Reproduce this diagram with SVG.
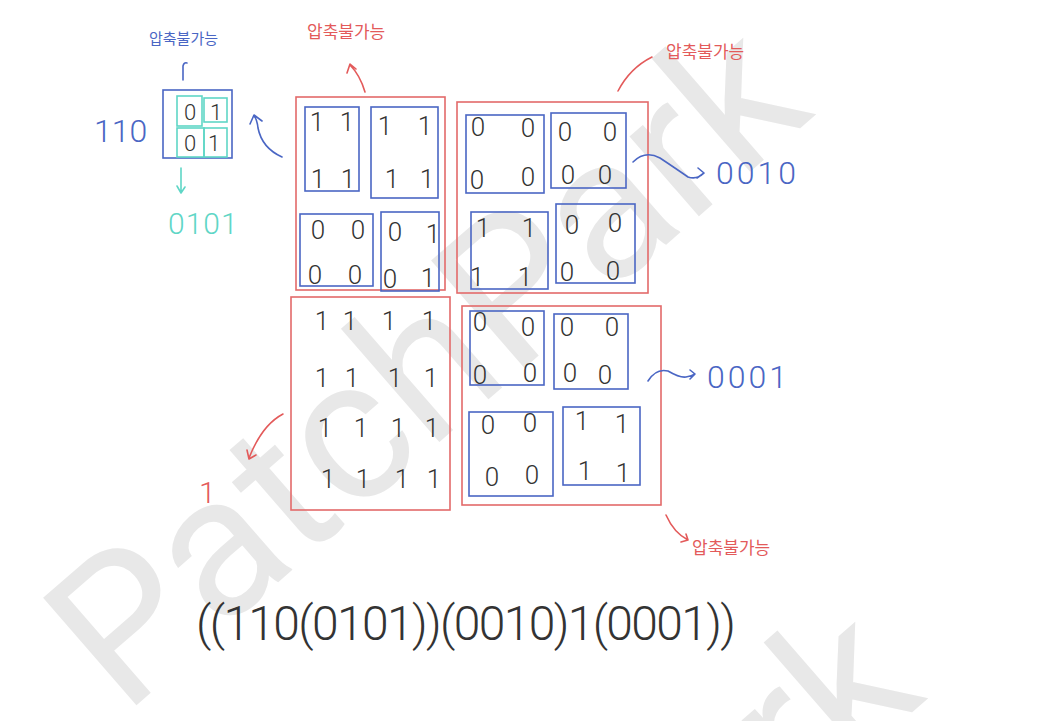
<svg xmlns="http://www.w3.org/2000/svg" width="1042" height="721" viewBox="0 0 1042 721">
<defs>
<style>
.wm{font-family:Roboto,"Open Sans",sans-serif;font-weight:400;font-size:200px;fill:#e8e8e8}
.red{fill:none;stroke:#e36a6a;stroke-width:1.6}
.blue{fill:none;stroke:#4a66c4;stroke-width:1.6}
.cyan{fill:none;stroke:#5fd6c6;stroke-width:1.6}
.d{font-family:Roboto,"Liberation Sans",sans-serif;font-weight:300;font-size:26px;fill:#333;text-anchor:middle}
.ds{font-family:Roboto,"Liberation Sans",sans-serif;font-weight:300;font-size:22px;fill:#333;text-anchor:middle}
.lblr{font-family:"Noto Sans CJK KR",sans-serif;font-size:17px;fill:#e35a5a}
.lblb{font-family:"Noto Sans CJK KR",sans-serif;font-size:15px;fill:#4a66c4}
.nb{font-family:Roboto,"Liberation Sans",sans-serif;font-weight:300;font-size:32px;fill:#4a66c4}
.nc{font-family:Roboto,"Liberation Sans",sans-serif;font-weight:300;font-size:30px;fill:#5fd6c6}
.nr{font-family:Roboto,"Liberation Sans",sans-serif;font-weight:300;font-size:30px;fill:#e35a5a}
.cr{fill:none;stroke:#e35a5a;stroke-width:1.6;stroke-linecap:round;stroke-linejoin:round}
.cb{fill:none;stroke:#4a66c4;stroke-width:1.6;stroke-linecap:round;stroke-linejoin:round}
.cc{fill:none;stroke:#5fd6c6;stroke-width:1.6;stroke-linecap:round;stroke-linejoin:round}
.expr{font-family:Roboto,"Liberation Sans",sans-serif;font-weight:300;font-size:48px;fill:#333}
</style>
</defs>
<rect width="1042" height="721" fill="#ffffff"/>
<g id="watermark">
<text class="wm" transform="translate(124,716) rotate(-41)">PatchPark</text>
<text class="wm" transform="translate(236,1300) rotate(-41)">PatchPark</text>
</g>

<g id="small-node">
<rect class="blue" x="163" y="90" width="69" height="68"/>
<rect class="cyan" x="177" y="96" width="25" height="30"/>
<rect class="cyan" x="204" y="98" width="23" height="24"/>
<rect class="cyan" x="177" y="128" width="27" height="29"/>
<rect class="cyan" x="204" y="128" width="23" height="29"/>
<text class="ds" x="190" y="120">0</text>
<text class="ds" x="216" y="120">1</text>
<text class="ds" x="190" y="151">0</text>
<text class="ds" x="214" y="151">1</text>
<text class="nb" x="94" y="142">110</text>
<text class="lblb" x="149" y="44">압축불가능</text>
<text class="nc" x="168" y="234" letter-spacing="1">0101</text>
</g>

<g id="quad-top-left">
<rect class="red" x="296" y="97" width="149" height="193"/>
<rect class="blue" x="305" y="107" width="54" height="84"/>
<rect class="blue" x="371" y="107" width="67" height="91"/>
<rect class="blue" x="300" y="214" width="73" height="72"/>
<rect class="blue" x="381" y="212" width="58" height="79"/>
<text class="d" x="317" y="131">1</text><text class="d" x="347" y="131">1</text>
<text class="d" x="318" y="188">1</text><text class="d" x="348" y="188">1</text>
<text class="d" x="385" y="135">1</text><text class="d" x="425" y="135">1</text>
<text class="d" x="392" y="188">1</text><text class="d" x="427" y="188">1</text>
<text class="d" x="318" y="239">0</text><text class="d" x="358" y="239">0</text>
<text class="d" x="315" y="284">0</text><text class="d" x="355" y="284">0</text>
<text class="d" x="395" y="241">0</text><text class="d" x="433" y="243">1</text>
<text class="d" x="390" y="288">0</text><text class="d" x="428" y="287">1</text>
<text class="lblr" x="307" y="38">압축불가능</text>
</g>

<g id="quad-top-right">
<rect class="red" x="457" y="102" width="191" height="191"/>
<rect class="blue" x="466" y="115" width="78" height="78"/>
<rect class="blue" x="551" y="113" width="75" height="75"/>
<rect class="blue" x="471" y="212" width="77" height="77"/>
<rect class="blue" x="556" y="204" width="79" height="79"/>
<text class="d" x="478" y="136">0</text><text class="d" x="528" y="137">0</text>
<text class="d" x="477" y="189">0</text><text class="d" x="528" y="186">0</text>
<text class="d" x="565" y="141">0</text><text class="d" x="610" y="141">0</text>
<text class="d" x="568" y="184">0</text><text class="d" x="605" y="184">0</text>
<text class="d" x="483" y="237">1</text><text class="d" x="529" y="237">1</text>
<text class="d" x="477" y="286">1</text><text class="d" x="525" y="286">1</text>
<text class="d" x="572" y="234">0</text><text class="d" x="615" y="232">0</text>
<text class="d" x="567" y="281">0</text><text class="d" x="613" y="280">0</text>
<text class="nb" x="716" y="184" letter-spacing="3">0010</text>
<text class="lblr" x="666" y="58">압축불가능</text>
</g>

<g id="quad-bottom-left">
<rect class="red" x="291" y="297" width="159" height="213"/>
<text class="d" x="322" y="330">1</text><text class="d" x="350" y="330">1</text><text class="d" x="389" y="330">1</text><text class="d" x="429" y="330">1</text>
<text class="d" x="322" y="387">1</text><text class="d" x="352" y="387">1</text><text class="d" x="395" y="387">1</text><text class="d" x="431" y="387">1</text>
<text class="d" x="325" y="437">1</text><text class="d" x="361" y="437">1</text><text class="d" x="398" y="437">1</text><text class="d" x="432" y="437">1</text>
<text class="d" x="328" y="488">1</text><text class="d" x="363" y="488">1</text><text class="d" x="402" y="488">1</text><text class="d" x="434" y="488">1</text>
<text class="nr" x="199" y="503">1</text>
</g>

<g id="quad-bottom-right">
<rect class="red" x="462" y="306" width="199" height="199"/>
<rect class="blue" x="470" y="311" width="74" height="74"/>
<rect class="blue" x="554" y="314" width="74" height="75"/>
<rect class="blue" x="469" y="412" width="84" height="84"/>
<rect class="blue" x="563" y="407" width="77" height="78"/>
<text class="d" x="480" y="331">0</text><text class="d" x="528" y="336">0</text>
<text class="d" x="480" y="384">0</text><text class="d" x="530" y="382">0</text>
<text class="d" x="567" y="336">0</text><text class="d" x="612" y="336">0</text>
<text class="d" x="570" y="382">0</text><text class="d" x="605" y="384">0</text>
<text class="d" x="488" y="434">0</text><text class="d" x="530" y="432">0</text>
<text class="d" x="492" y="486">0</text><text class="d" x="532" y="484">0</text>
<text class="d" x="582" y="430">1</text><text class="d" x="622" y="433">1</text>
<text class="d" x="585" y="480">1</text><text class="d" x="623" y="482">1</text>
<text class="nb" x="707" y="388" letter-spacing="3">0001</text>
<text class="lblr" x="692" y="554">압축불가능</text>
</g>

<g id="connectors">
<path class="cb" d="M183,80 L183,66 Q184,62 187,63"/>
<path class="cc" d="M181,168 L181,192 M177,186 L181,193 L185,187"/>
<path class="cb" d="M282,157 Q262,148 258,128 Q257,119 254,116 M250,124 L254,115 L262,121"/>
<path class="cr" d="M365,92 Q360,75 350,65 M347,73 L350,64 L356,69"/>
<path class="cr" d="M618,91 Q630,68 652,57"/>
<path class="cb" d="M633,162 Q645,150 660,158 Q678,170 688,177 Q697,180 704,173 M698,168 L704,173 L697,178"/>
<path class="cr" d="M283,414 Q262,425 249,458 M247,450 L249,459 L256,455"/>
<path class="cb" d="M648,381 Q656,368 668,371 Q680,378 686,377 Q692,376 695,374 M690,370 L695,374 L690,379"/>
<path class="cr" d="M666,515 Q674,533 688,540 M681,542 L688,540 L686,534"/>
</g>

<g id="expression">
<text class="expr" x="196" y="640" textLength="540" lengthAdjust="spacing">((110(0101))(0010)1(0001))</text>
</g>
</svg>
